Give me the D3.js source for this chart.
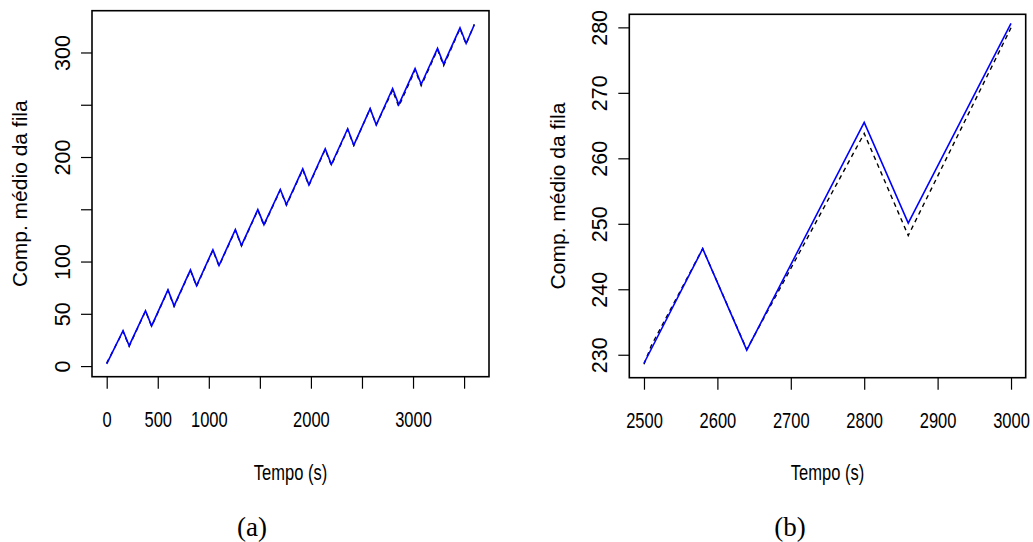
<!DOCTYPE html>
<html>
<head>
<meta charset="utf-8">
<script src="https://cdn.jsdelivr.net/npm/d3@7"></script>
<style>
  html, body { margin: 0; padding: 0; background: #fff; }
  svg { display: block; }
</style>
</head>
<body>
<svg id="chart" width="1033" height="542"></svg>
<script>
// ---- Data: mean queue length over time ----

// (a) full run, 0 – 3600 s
const timeA      = [0, 160, 220, 380, 440, 600, 660, 820, 880, 1040, 1100, 1260, 1320, 1480, 1540, 1700, 1760,
                    1920, 1980, 2140, 2200, 2360, 2420, 2580, 2640, 2800, 2860, 3020, 3080, 3240, 3300, 3460, 3520, 3600];
const modelA     = [2.8, 33.2, 19.0, 52.6, 38.0, 72.4, 57.0, 91.6, 76.3, 110.8, 95.6, 130.0, 114.9, 149.2, 134.6, 168.4, 153.8,
                    188.0, 172.7, 207.2, 192.0, 226.4, 211.0, 246.2, 230.8, 263.8, 248.2, 283.4, 268.2, 302.8, 287.4, 322.8, 308.0, 327.0];
const simulatedA = [2.2, 33.9, 19.5, 53.0, 38.4, 72.9, 57.6, 92.0, 76.8, 111.3, 96.2, 130.5, 115.4, 149.7, 135.3, 168.9, 154.5,
                    188.7, 173.4, 207.9, 192.8, 227.0, 211.3, 246.2, 230.7, 265.5, 250.1, 284.6, 269.6, 303.9, 288.8, 323.6, 308.6, 326.5];
const xTicksA      = [0, 500, 1000, 1500, 2000, 2500, 3000, 3500];
const xTickLabelsA = ["0", "500", "1000", "", "2000", "", "3000", ""];
const yTicksA      = [0, 50, 100, 150, 200, 250, 300];
const yTickLabelsA = ["0", "50", "100", "", "200", "", "300"];

// (b) detail, 2500 – 3000 s
const timeModelB = [2500, 2510, 2580, 2640, 2800, 2860, 3000];
const modelB     = [228.55, 231.4, 246.2, 230.8, 263.8, 248.2, 279.94];
const timeSimB   = [2500, 2580, 2640, 2800, 2860, 3000];
const simulatedB = [228.7, 246.2, 230.7, 265.5, 250.1, 280.6];
const xTicksB      = [2500, 2600, 2700, 2800, 2900, 3000];
const xTickLabelsB = ["2500", "2600", "2700", "2800", "2900", "3000"];
const yTicksB      = [230, 240, 250, 260, 270, 280];
const yTickLabelsB = ["230", "240", "250", "260", "270", "280"];

const xTitle = "Tempo (s)";
const yTitle = "Comp. médio da fila";
const captions = ["(a)", "(b)"];

// ---- Drawing ----
const svg = d3.select("#chart");
svg.append("rect").attr("width", 1033).attr("height", 542).attr("fill", "#fff");

const SANS = "'Liberation Sans', Arial, sans-serif";
const NARROW = 0.75;   // horizontal squeeze for the condensed x-axis lettering

const zip = (xs, ys) => xs.map((x, i) => ({ x, y: ys[i] }));

// R-style range: data extent padded by 4 % on each side
function padded(values) {
  const [lo, hi] = d3.extent(values);
  const p = (hi - lo) * 0.04;
  return [lo - p, hi + p];
}

function panel(cfg) {
  const { left, right, top, bottom } = cfg.box;
  const x = d3.scaleLinear().domain(padded(cfg.domainX)).range([left, right]);
  const y = d3.scaleLinear().domain(padded(cfg.domainY)).range([bottom, top]);

  const g = svg.append("g");
  const clipId = "clip-" + cfg.id;
  g.append("clipPath").attr("id", clipId)
    .append("rect").attr("x", left).attr("y", top)
    .attr("width", right - left).attr("height", bottom - top);

  const line = d3.line().x(d => x(d.x)).y(d => y(d.y));
  const plot = g.append("g").attr("clip-path", `url(#${clipId})`);

  plot.append("path").datum(cfg.model)
    .attr("d", line).attr("fill", "none")
    .attr("stroke", "#000").attr("stroke-width", 1.4)
    .attr("stroke-dasharray", "4.5,4");
  plot.append("path").datum(cfg.simulated)
    .attr("d", line).attr("fill", "none")
    .attr("stroke", "#0000ff").attr("stroke-width", 1.6)
    .attr("stroke-linejoin", "miter");

  // x axis
  const xAxis = d3.axisBottom(x)
    .tickValues(cfg.xTicks)
    .tickFormat((d, i) => cfg.xTickLabels[i])
    .tickSize(12).tickSizeOuter(0);
  const gx = g.append("g").attr("transform", `translate(0,${bottom})`).call(xAxis);
  gx.select(".domain").remove();
  gx.selectAll(".tick line").attr("stroke", "#000").attr("stroke-width", 1.2);
  gx.selectAll(".tick text")
    .attr("y", 0).attr("dy", "0.35em")
    .attr("transform", `translate(0,43) scale(${NARROW},1)`)
    .attr("font-family", SANS)
    .attr("font-size", 22).attr("fill", "#000");

  // y axis, labels turned parallel to the axis
  const yAxis = d3.axisLeft(y)
    .tickValues(cfg.yTicks)
    .tickFormat((d, i) => cfg.yTickLabels[i])
    .tickSize(11).tickSizeOuter(0);
  const gy = g.append("g").attr("transform", `translate(${left},0)`).call(yAxis);
  gy.select(".domain").remove();
  gy.selectAll(".tick line").attr("stroke", "#000").attr("stroke-width", 1.2);
  gy.selectAll(".tick text")
    .attr("x", 0).attr("dy", "0.35em")
    .attr("transform", "translate(-30,0) rotate(-90)")
    .attr("text-anchor", "middle")
    .attr("font-family", SANS)
    .attr("font-size", 21.5).attr("fill", "#000");

  // frame
  g.append("rect").attr("x", left).attr("y", top)
    .attr("width", right - left).attr("height", bottom - top)
    .attr("fill", "none").attr("stroke", "#000").attr("stroke-width", 1.6);

  // titles
  g.append("text")
    .attr("transform", `translate(${(left + right) / 2},472) scale(${NARROW},1)`)
    .attr("dy", "0.35em")
    .attr("text-anchor", "middle")
    .attr("font-family", SANS)
    .attr("font-size", 22).text(xTitle);
  g.append("text")
    .attr("transform", `translate(${left - 72},${(top + bottom) / 2}) rotate(-90)`)
    .attr("dy", "0.35em").attr("text-anchor", "middle")
    .attr("font-family", SANS)
    .attr("font-size", 21).text(yTitle);

  g.append("text")
    .attr("x", cfg.captionX).attr("y", 527).attr("dy", "0.35em")
    .attr("text-anchor", "middle")
    .attr("font-family", "'Liberation Serif', 'DejaVu Serif', serif")
    .attr("font-size", 27).text(cfg.caption);
}

panel({
  id: "a",
  box: { left: 92, right: 489, top: 10.7, bottom: 376.7 },
  domainX: timeA, domainY: modelA,
  model: zip(timeA, modelA), simulated: zip(timeA, simulatedA),
  xTicks: xTicksA, xTickLabels: xTickLabelsA,
  yTicks: yTicksA, yTickLabels: yTickLabelsA,
  caption: captions[0], captionX: 252
});

panel({
  id: "b",
  box: { left: 629.3, right: 1025.7, top: 14.3, bottom: 377.7 },
  domainX: timeModelB, domainY: modelB,
  model: zip(timeModelB, modelB), simulated: zip(timeSimB, simulatedB),
  xTicks: xTicksB, xTickLabels: xTickLabelsB,
  yTicks: yTicksB, yTickLabels: yTickLabelsB,
  caption: captions[1], captionX: 790
});
</script>
</body>
</html>
